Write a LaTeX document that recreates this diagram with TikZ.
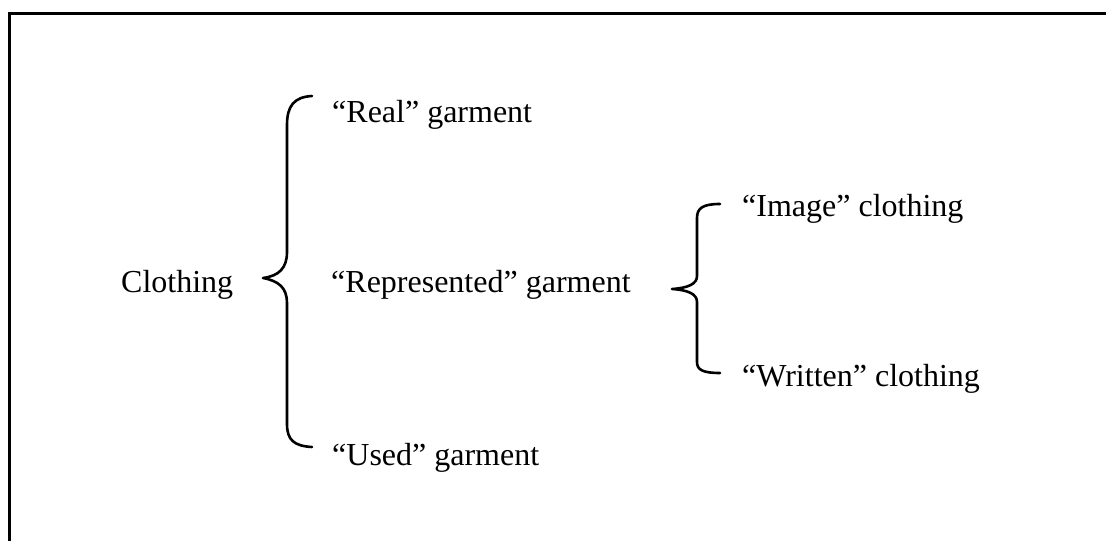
\documentclass[tikz,border=0pt]{standalone}
\usepackage{fontspec}
\setmainfont{Liberation Serif}
\begin{document}
\begin{tikzpicture}[x=1bp,y=-1bp,
  label/.style={anchor=base west,inner sep=0pt,font=\fontsize{32bp}{37bp}\selectfont},
  bracket/.style={line width=2.6bp,line cap=round,line join=round},
  frame/.style={line width=3bp}]
\useasboundingbox (0,0) rectangle (1106,541);
% frame (top and left edges)
\draw[frame] (9,541) -- (9,14) -- (1106,14);
% labels
\node[label] (clothing) at (121,293) {Clothing};
\node[label] (real) at (332,123) {“Real” garment};
\node[label] (repr) at (331,293) {“Represented” garment};
\node[label] (used) at (332,465) {“Used” garment};
\node[label] (image) at (742,217) {“Image” clothing};
\node[label] (written) at (742,387) {“Written” clothing};
% first-level brace
\coordinate (b1top) at (312,96);
\coordinate (b1tip) at (263,278);
\coordinate (b1bot) at (312,447);
\draw[bracket] (b1top) .. controls (294,97) and (287,106) .. (287,125)
  -- (287,252) .. controls (287,268) and (279,276) .. (b1tip)
  .. controls (279,281) and (287,288) .. (287,303)
  -- (287,424) .. controls (287,440) and (294,446) .. (b1bot);
% second-level brace
\coordinate (b2top) at (720,204);
\coordinate (b2tip) at (672,289);
\coordinate (b2bot) at (720,373);
\draw[bracket] (b2top) .. controls (703,204) and (697,208) .. (697,218)
  -- (697,276) .. controls (697,284) and (688,288) .. (b2tip)
  .. controls (688,290) and (697,294) .. (697,302)
  -- (697,362) .. controls (697,370) and (703,373) .. (b2bot);
\end{tikzpicture}
\end{document}
